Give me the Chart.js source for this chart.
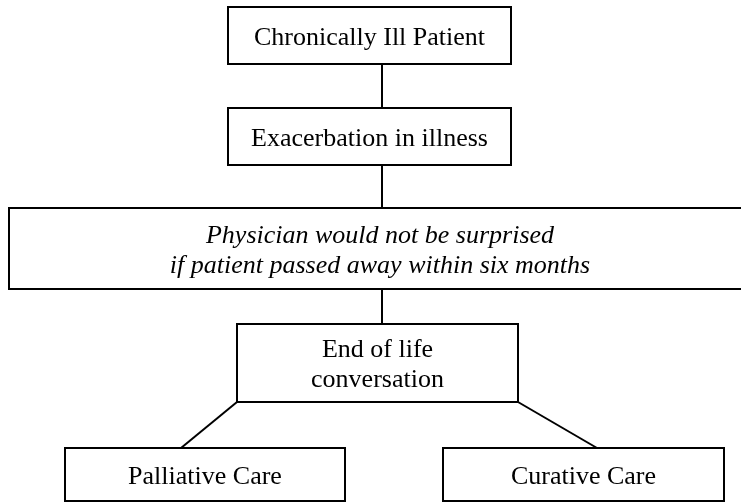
<!DOCTYPE html>
<html>
<head>
<meta charset="utf-8">
<script src="https://cdn.jsdelivr.net/npm/chart.js@4"></script>
<style>
  html, body { margin: 0; padding: 0; background: #fff; }
  #flow { display: block; }
</style>
</head>
<body>
<canvas id="flow" width="741" height="504"></canvas>
<script>
// flowchart nodes (text of each box)
const nodeLabels = [
  ["Chronically Ill Patient"],
  ["Exacerbation in illness"],
  ["Physician would not be surprised", "if patient passed away within six months"],
  ["End of life", "conversation"],
  ["Palliative Care"],
  ["Curative Care"]
];
const nodeItalic = [false, false, true, false, false, false];

// box extents in chart units (x: 0..741, y: 0..504 going down)
const nodeLeft   = [228, 228,   9, 237,  65, 443];
const nodeRight  = [511, 511, 751, 518, 345, 724];
const nodeTop    = [  7, 108, 208, 324, 448, 448];
const nodeBottom = [ 64, 165, 289, 402, 501, 501];

// connectors between the boxes
const links = [
  [[382, 64],  [382, 108]],
  [[382, 165], [382, 208]],
  [[382, 289], [382, 324]],
  [[237, 402], [181, 448]],
  [[518, 402], [597, 448]]
];

const flowFont = '"Liberation Serif", "Times New Roman", serif';
const fontSize = 26;

// draws the boxes and their texts on top of the connector lines
const boxPlugin = {
  id: 'boxes',
  afterDatasetsDraw(chart) {
    const ctx = chart.ctx;
    const xs = chart.scales.x, ys = chart.scales.y;
    ctx.save();
    for (let i = 0; i < nodeLabels.length; i++) {
      const l = xs.getPixelForValue(nodeLeft[i]);
      const r = xs.getPixelForValue(nodeRight[i]);
      const t = ys.getPixelForValue(nodeTop[i]);
      const b = ys.getPixelForValue(nodeBottom[i]);
      ctx.fillStyle = '#fff';
      ctx.fillRect(l, t, r - l, b - t);
      ctx.strokeStyle = '#000';
      ctx.lineWidth = 2;
      ctx.strokeRect(l, t, r - l, b - t);

      const lines = nodeLabels[i];
      const cx = (l + r) / 2, cy = (t + b) / 2;
      ctx.fillStyle = '#000';
      ctx.textAlign = 'center';
      ctx.textBaseline = 'alphabetic';
      ctx.font = (nodeItalic[i] ? 'italic ' : '') + fontSize + 'px ' + flowFont;
      for (let j = 0; j < lines.length; j++) {
        const y = cy + 9 + (j - (lines.length - 1) / 2) * 30;
        ctx.fillText(lines[j], cx, y);
      }
    }
    ctx.restore();
  }
};

new Chart(document.getElementById('flow'), {
  type: 'scatter',
  data: {
    datasets: links.map(function (seg) {
      return {
        data: seg.map(function (p) { return { x: p[0], y: p[1] }; }),
        showLine: true,
        borderColor: '#000',
        borderWidth: 2,
        pointRadius: 0,
        fill: false
      };
    })
  },
  options: {
    responsive: false,
    animation: false,
    events: [],
    layout: { padding: 0 },
    plugins: { legend: { display: false }, tooltip: { enabled: false } },
    scales: {
      x: { type: 'linear', min: 0, max: 741, display: false },
      y: { type: 'linear', min: 0, max: 504, reverse: true, display: false }
    }
  },
  plugins: [boxPlugin]
});
</script>
</body>
</html>
